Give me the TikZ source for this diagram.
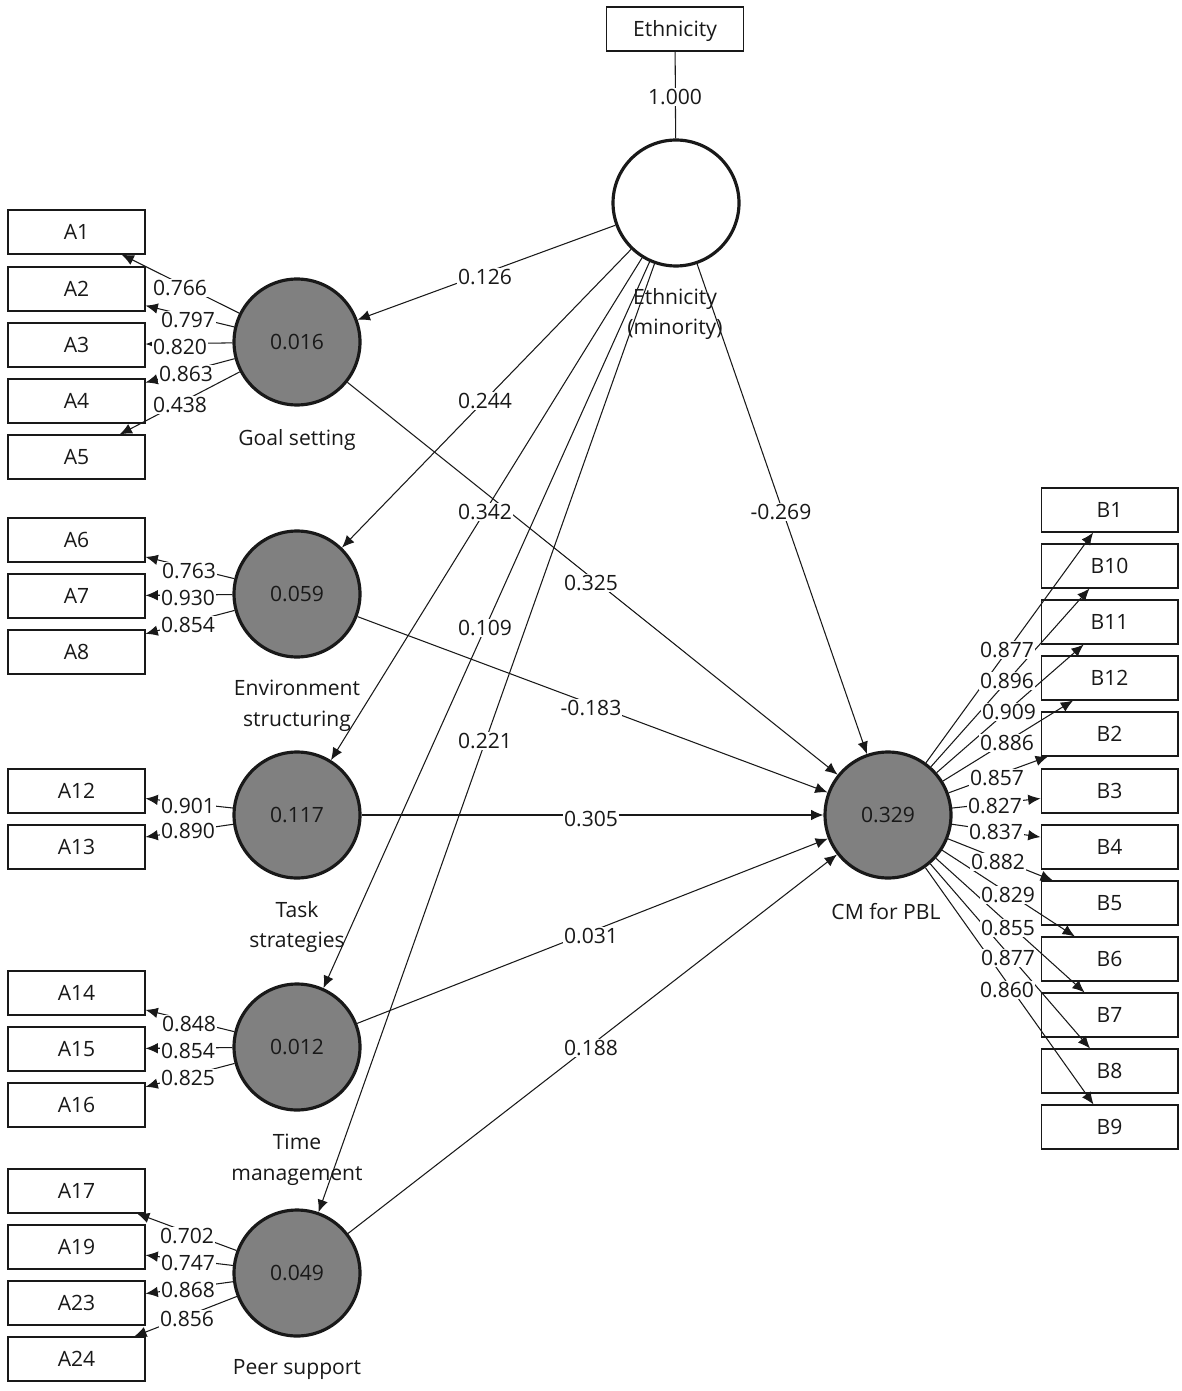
\documentclass[tikz,border=0pt]{standalone}
\usepackage{fontspec}
\setmainfont{Open Sans}
\usetikzlibrary{arrows.meta,calc}
\definecolor{latgray}{RGB}{128,128,128}
\definecolor{ink}{RGB}{25,25,25}
\begin{document}
\begin{tikzpicture}[x=0.02cm,y=-0.02cm,
  font=\fontsize{12}{17.6}\selectfont, color=ink,
  ind/.style={draw, line width=0.6pt, minimum width=2.74cm, minimum height=0.88cm, inner sep=0pt, fill=white, text height=8.6pt, text depth=0pt},
  lat/.style={circle, draw, line width=1.8pt, fill=latgray, minimum size=2.52cm, inner sep=0pt},
  lnk/.style={line width=0.6pt, -{Latex[length=7pt,width=6pt]}},
  coef/.style={fill=white, inner sep=0.6pt},
  captxt/.style={align=center}
]
\useasboundingbox[fill=white] (0,0) rectangle (1181,1391);

% latent variables
\node[ind] (Eth) at (675,29) {Ethnicity};
\node[lat, fill=white] (EC) at (676,203) {};
\node[lat] (GS) at (297,342) {0.016};
\node[lat] (ES) at (297,594) {0.059};
\node[lat] (TS) at (297,815) {0.117};
\node[lat] (TM) at (297,1047) {0.012};
\node[lat] (PS) at (297,1273) {0.049};
\node[lat] (CM) at (888,815) {0.329};

% left indicators
\foreach \n/\y in {A1/232,A2/289,A3/345,A4/401,A5/457,A6/540,A7/596,A8/652,A12/791,A13/847,A14/993,A15/1049,A16/1105,A17/1191,A19/1247,A23/1303,A24/1359}
  \node[ind] (\n) at (76.5,\y) {\n};
% right indicators
\foreach \n/\y in {B1/510,B10/566,B11/622,B12/678,B2/734,B3/791,B4/847,B5/903,B6/959,B7/1015,B8/1071,B9/1127}
  \node[ind] (\n) at (1109.5,\y) {\n};

% Ethnicity indicator
\draw[line width=0.6pt] (Eth) -- (EC);
\node[coef] at (675,97) {1.000};

% outer loadings left
\foreach \s/\t in {GS/A1,GS/A2,GS/A3,GS/A4,GS/A5,ES/A6,ES/A7,ES/A8,TS/A12,TS/A13,TM/A14,TM/A15,TM/A16,PS/A17,PS/A19,PS/A23,PS/A24}
  \draw[lnk] (\s) -- (\t);
% outer loadings right
\foreach \t in {B1,B10,B11,B12,B2,B3,B4,B5,B6,B7,B8,B9}
  \draw[lnk] (CM) -- (\t);

% structural paths
\foreach \t in {GS,ES,TS,TM,PS,CM}
  \draw[lnk] (EC) -- (\t);
\foreach \s in {GS,ES,TS,TM,PS}
  \draw[lnk] (\s) -- (CM);

% loading labels left
\node[coef] at (180,288) {0.766};
\node[coef] at (188,320) {0.797};
\node[coef] at (180,347) {0.820};
\node[coef] at (186,374) {0.863};
\node[coef] at (180,405) {0.438};
\node[coef] at (189,571) {0.763};
\node[coef] at (188,598) {0.930};
\node[coef] at (188,625) {0.854};
\node[coef] at (188,806) {0.901};
\node[coef] at (188,831) {0.890};
\node[coef] at (189,1024) {0.848};
\node[coef] at (188,1051) {0.854};
\node[coef] at (188,1078) {0.825};
\node[coef] at (187,1236) {0.702};
\node[coef] at (188,1263) {0.747};
\node[coef] at (188,1290) {0.868};
\node[coef] at (187,1319) {0.856};

% loading labels right
\node[coef] at (1007,650) {0.877};
\node[coef] at (1007,681) {0.896};
\node[coef] at (1009,712) {0.909};
\node[coef] at (1007,743) {0.886};
\node[coef] at (997,778) {0.857};
\node[coef] at (995,806) {0.827};
\node[coef] at (996,832) {0.837};
\node[coef] at (998,862) {0.882};
\node[coef] at (1008,895) {0.829};
\node[coef] at (1008,928) {0.855};
\node[coef] at (1008,958) {0.877};
\node[coef] at (1007,990) {0.860};

% path coefficient labels
\node[coef] at (485,277) {0.126};
\node[coef] at (485,401) {0.244};
\node[coef] at (485,512) {0.342};
\node[coef] at (485,628) {0.109};
\node[coef] at (485,741) {0.221};
\node[coef] at (781,512) {-0.269};
\node[coef] at (591,583) {0.325};
\node[coef] at (591,708) {-0.183};
\node[coef] at (591,819) {0.305};
\node[coef] at (591,936) {0.031};
\node[coef] at (591,1048) {0.188};

% captions
\node[captxt] (capEC) at (675,314) {Ethnicity\\(minority)};
\node[captxt] (capGS) at (297,440) {Goal setting};
\node[captxt] (capES) at (297,706) {Environment\\structuring};
\node[captxt] (capTS) at (297,927) {Task\\strategies};
\node[captxt] (capTM) at (297,1160) {Time\\management};
\node[captxt] (capPS) at (297,1369) {Peer support};
\node[captxt] (capCM) at (886,912) {CM for PBL};
\end{tikzpicture}
\end{document}
